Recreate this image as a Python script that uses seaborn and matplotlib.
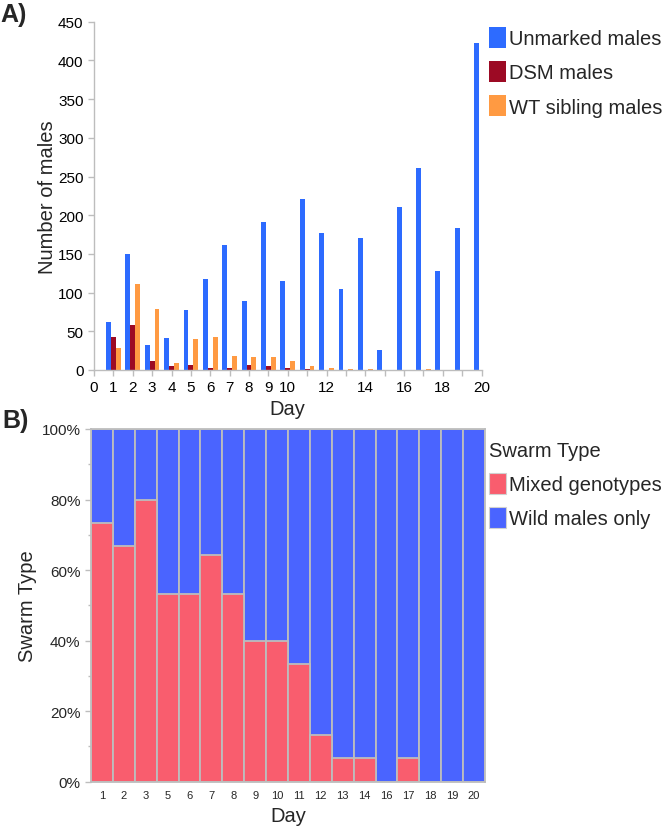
import matplotlib
matplotlib.use('Agg')
import matplotlib.pyplot as plt
import seaborn as sns
import pandas as pd
from matplotlib.patches import Patch
from matplotlib.ticker import FixedLocator, PercentFormatter

# ---------------- data ----------------
days_a = list(range(1, 21))
unmarked = [62, 150, 32, 41, 77, 118, 161, 89, 191, 115, 221, 177, 105, 170, 26, 210, 261, 128, 184, 422]
dsm = [43, 58, 12, 5, 7, 3, 3, 6, 5, 3, 1, 0, 0, 0, 0, 0, 0, 0, 0, 0]
wt_sib = [28, 111, 79, 9, 40, 42, 18, 17, 17, 12, 5, 3, 1, 1, 0, 0, 1, 0, 0, 0]
series_names = ['Unmarked males', 'DSM males', 'WT sibling males']
series_colors = ['#2D6BFF', '#9C0A24', '#FF9A42']
a_major_ticks = [0, 1, 2, 3, 4, 5, 6, 7, 8, 9, 10, 12, 14, 16, 18, 20]
a_minor_ticks = [11, 13, 15, 17, 19]

days_b = ['1', '2', '3', '5', '6', '7', '8', '9', '10', '11', '12', '13', '14', '16', '17', '18', '19', '20']
mixed_pct = [73.3, 66.7, 80.0, 53.3, 53.3, 64.3, 53.3, 40.0, 40.0, 33.3, 13.3, 6.7, 6.7, 0, 6.7, 0, 0, 0]
wild_pct = [100 - m for m in mixed_pct]
swarm_types = ['Mixed genotypes', 'Wild males only']
swarm_colors = ['#F95D6E', '#4A64FF']

# ---------------- style ----------------
sns.set_style('white')
plt.rcParams['font.family'] = ['Liberation Sans', 'DejaVu Sans']
GRAY = '#BDBDBD'

fig = plt.figure(figsize=(6.67, 8.28), dpi=100)

# ---------------- panel A ----------------
axA = fig.add_axes([94 / 667, 1 - 371 / 828, (481.5 - 94) / 667, (371 - 22.7) / 828])
dfA = pd.DataFrame({
    'Day': days_a * 3,
    'count': unmarked + dsm + wt_sib,
    'type': [series_names[0]] * 20 + [series_names[1]] * 20 + [series_names[2]] * 20,
})
sns.barplot(data=dfA, x='Day', y='count', hue='type', hue_order=series_names,
            palette=series_colors, native_scale=True, width=0.75, saturation=1,
            errorbar=None, linewidth=0, ax=axA, legend=False)
axA.set_xlim(0, 20)
axA.set_ylim(0, 450)
axA.set_yticks(range(0, 451, 50))
axA.xaxis.set_major_locator(FixedLocator(a_major_ticks))
axA.xaxis.set_minor_locator(FixedLocator(a_minor_ticks))
axA.set_xticklabels([str(t) for t in a_major_ticks])
for s in ['top', 'right']:
    axA.spines[s].set_visible(False)
for s in ['left', 'bottom']:
    axA.spines[s].set_color(GRAY)
    axA.spines[s].set_linewidth(1.0)
axA.tick_params(axis='both', which='both', direction='out', color=GRAY, length=4,
                width=1, labelsize=11, labelcolor='black', left=True, bottom=True)
axA.set_xlabel('Day', fontsize=14.5, labelpad=3)
axA.set_ylabel('Number of males', fontsize=14.5, labelpad=1)
handlesA = [Patch(facecolor=c, edgecolor='none') for c in series_colors]
fig.legend(handlesA, series_names, loc='upper left', bbox_to_anchor=(489 / 667, 1 - 28 / 828),
           frameon=False, fontsize=14.5, handlelength=0.85, handleheight=1.2,
           handletextpad=0.15, labelspacing=0.65, borderpad=0, borderaxespad=0)
fig.text(0 / 667, 1 - 15 / 828, 'A)', fontsize=18, fontweight='bold', va='center', ha='left')

# ---------------- panel B ----------------
axB = fig.add_axes([91 / 667, 1 - 782.7 / 828, (485 - 91) / 667, (782.7 - 430) / 828])
total_pct = [m + w for m, w in zip(mixed_pct, wild_pct)]
sns.barplot(x=days_b, y=total_pct, color=swarm_colors[1], saturation=1, width=1.0,
            errorbar=None, edgecolor=GRAY, linewidth=1.3, ax=axB)
sns.barplot(x=days_b, y=mixed_pct, color=swarm_colors[0], saturation=1, width=1.0,
            errorbar=None, edgecolor=GRAY, linewidth=1.3, ax=axB)
axB.set_xlim(-0.5, len(days_b) - 0.5)
axB.set_ylim(0, 100)
axB.yaxis.set_major_locator(FixedLocator([0, 20, 40, 60, 80, 100]))
axB.yaxis.set_minor_locator(FixedLocator([10, 30, 50, 70, 90]))
axB.yaxis.set_major_formatter(PercentFormatter(decimals=0))
for s in axB.spines.values():
    s.set_color(GRAY)
    s.set_linewidth(1.3)
axB.tick_params(axis='y', which='major', direction='out', color=GRAY, length=4, width=1,
                labelsize=11, left=True)
axB.tick_params(axis='y', which='minor', direction='out', color=GRAY, length=2.5, width=1, left=True)
axB.tick_params(axis='x', length=0, labelsize=8, pad=6)
axB.set_xlabel('Day', fontsize=14.5, labelpad=4)
axB.set_ylabel('Swarm Type', fontsize=14.5, labelpad=3)
handlesB = [Patch(facecolor=c, edgecolor='#D0D0D0', linewidth=0.8) for c in swarm_colors]
fig.legend(handlesB, swarm_types, title='Swarm Type', loc='upper left',
           bbox_to_anchor=(489 / 667, 1 - 442 / 828), frameon=False, fontsize=14.5,
           title_fontsize=14.5, alignment='left', handlelength=0.85, handleheight=1.2,
           handletextpad=0.15, labelspacing=0.65, borderpad=0, borderaxespad=0)
fig.text(2 / 667, 1 - 421 / 828, 'B)', fontsize=18, fontweight='bold', va='center', ha='left')

fig.savefig('out.png', dpi=100)
